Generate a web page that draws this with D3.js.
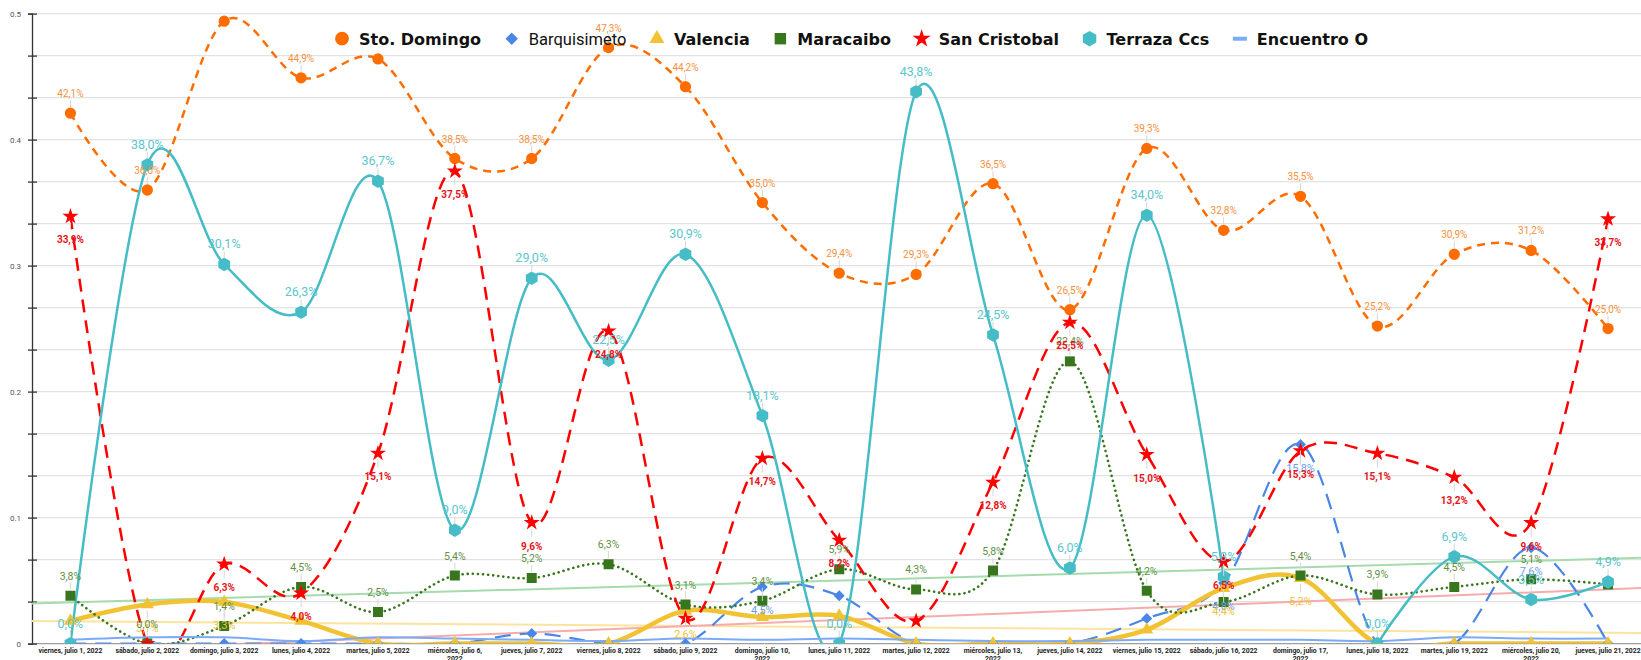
<!DOCTYPE html>
<html>
<head>
<meta charset="utf-8">
<script src="https://cdn.jsdelivr.net/npm/d3@7"></script>
<style>
  body { margin: 0; background: #fff; overflow: hidden; }
  svg { display: block; }
</style>
</head>
<body>
<div id="chart"></div>
<script>
// Categories (days)
var categories = ["viernes, julio 1, 2022", "sábado, julio 2, 2022", "domingo, julio 3, 2022", "lunes, julio 4, 2022",
	"martes, julio 5, 2022", "miércoles, julio 6, 2022", "jueves, julio 7, 2022", "viernes, julio 8, 2022",
	"sábado, julio 9, 2022", "domingo, julio 10, 2022", "lunes, julio 11, 2022", "martes, julio 12, 2022",
	"miércoles, julio 13, 2022", "jueves, julio 14, 2022", "viernes, julio 15, 2022", "sábado, julio 16, 2022",
	"domingo, julio 17, 2022", "lunes, julio 18, 2022", "martes, julio 19, 2022", "miércoles, julio 20, 2022",
	"jueves, julio 21, 2022"];

// Series values
var stoDomingo   = [0.421, 0.360, 0.494, 0.449, 0.464, 0.385, 0.385, 0.473, 0.442, 0.350, 0.294, 0.293, 0.365, 0.265, 0.393, 0.328, 0.355, 0.252, 0.309, 0.312, 0.250];
var barquisimeto = [0, 0, 0, 0, 0, 0, 0.008, 0, 0, 0.045, 0.038, 0, 0, 0, 0.020, 0.048, 0.158, 0, 0, 0.076, 0];
var valencia     = [0.018, 0.031, 0.033, 0.018, 0, 0, 0, 0, 0.026, 0.021, 0.022, 0, 0, 0, 0.011, 0.044, 0.052, 0, 0, 0, 0];
var maracaibo    = [0.038, 0, 0.014, 0.045, 0.025, 0.054, 0.052, 0.063, 0.031, 0.034, 0.059, 0.043, 0.058, 0.224, 0.042, 0.033, 0.054, 0.039, 0.045, 0.051, 0.047];
var sanCristobal = [0.339, 0, 0.063, 0.040, 0.151, 0.375, 0.096, 0.248, 0.020, 0.147, 0.082, 0.018, 0.128, 0.255, 0.150, 0.065, 0.153, 0.151, 0.132, 0.096, 0.337];
var terrazaCcs   = [0, 0.380, 0.301, 0.263, 0.367, 0.090, 0.290, 0.225, 0.309, 0.181, 0, 0.438, 0.245, 0.060, 0.340, 0.053, null, 0, 0.069, 0.035, 0.049];
var encuentroO   = [0.003, 0.005, 0.005, 0.002, 0.005, 0.004, 0.003, 0.002, 0.004, 0.003, 0.004, 0.003, 0.002, 0.002, 0.003, 0.003, 0.003, 0.002, 0.005, 0.004, 0.004];

// Which data labels are visible (indices)
var stoDomingoLabelsHidden   = [2, 4];
var barquisimetoLabelsShown  = [9, 15, 16, 19];
var valenciaLabelsShown      = [1, 2, 8, 15, 16];
var maracaiboLabelsHidden    = [15, 20];
var sanCristobalLabelsHidden = [1, 8, 11];

// Y axis: gridlines every 1/30, labels every 0.1
var gridSteps = d3.range(16).map(function(i) { return i / 30; });

var width = 1641, height = 660;
var axisX = 32;
var step = 76.88;

var x = d3.scaleBand().domain(categories).range([axisX, axisX + categories.length * step]).padding(0);
var y = d3.scaleLinear().domain([0, 0.5]).range([643.6, 13.6]);

function cx(i) { return x(categories[i]) + x.bandwidth() / 2; }

var locale = d3.formatLocale({decimal: ",", thousands: ".", grouping: [3], currency: ["", ""]});
var pct = locale.format(".1%");

// hexagon marker (d3 has none)
var symbolHexagon = {
	draw: function(context, size) {
		var r = Math.sqrt(size / (1.5 * Math.sqrt(3)));
		for (var k = 0; k < 6; k++) {
			var a = Math.PI / 3 * k - Math.PI / 2;
			if (k == 0) context.moveTo(r * Math.cos(a), r * Math.sin(a));
			else context.lineTo(r * Math.cos(a), r * Math.sin(a));
		}
		context.closePath();
	}
};

var series = [
	{name: "Sto. Domingo", values: stoDomingo, color: "#ff6d00", width: 2.5, dash: "8,6", cap: "butt",
		symbol: d3.symbolCircle, size: 100, rotate: 0,
		label: {pos: "above", color: "#f5913e", size: 10, weight: "normal", hidden: stoDomingoLabelsHidden}},
	{name: "Barquisimeto", values: barquisimeto, color: "#4a86e8", width: 2.2, dash: "16,9", cap: "butt",
		symbol: d3.symbolSquare, size: 60, rotate: 45,
		label: {pos: "below", color: "#6d9eeb", size: 11, weight: "normal", shown: barquisimetoLabelsShown}},
	{name: "Valencia", values: valencia, color: "#f1c232", width: 4.5, dash: null, cap: "round",
		symbol: d3.symbolTriangle, size: 75, rotate: 0,
		label: {pos: "below", color: "#f1c232", size: 11, weight: "normal", shown: valenciaLabelsShown}},
	{name: "Maracaibo", values: maracaibo, color: "#38761d", width: 2.6, dash: "0.1,5", cap: "round",
		symbol: d3.symbolSquare, size: 100, rotate: 0,
		label: {pos: "above", color: "#5f8f44", size: 10.5, weight: "normal", hidden: maracaiboLabelsHidden}},
	{name: "San Cristobal", values: sanCristobal, color: "#ff0000", width: 2.5, dash: "13,8", cap: "butt",
		symbol: d3.symbolStar, size: 80, rotate: 0,
		label: {pos: "below", color: "#e8141b", size: 10, weight: "bold", hidden: sanCristobalLabelsHidden}},
	{name: "Terraza Ccs", values: terrazaCcs, color: "#46bdc6", width: 2.5, dash: null, cap: "round",
		symbol: symbolHexagon, size: 120, rotate: 0,
		label: {pos: "above", color: "#5cc6ce", size: 12.5, weight: "normal", hidden: []}},
	{name: "Encuentro O", values: encuentroO, color: "#7baaf7", width: 2, dash: null, cap: "round",
		symbol: null, label: null}
];

// linear trendlines (least squares over the category index)
function trend(values) {
	var n = values.length, mx = (n - 1) / 2, my = d3.mean(values);
	var sxy = 0, sxx = 0;
	values.forEach(function(v, i) { sxy += (i - mx) * (v - my); sxx += (i - mx) * (i - mx); });
	var b = sxy / sxx;
	return function(i) { return my + b * (i - mx); };
}
var trends = [
	{values: maracaibo, color: "#a6dbae"},
	{values: valencia, color: "#fde3a0"},
	{values: barquisimeto, color: "#f6acac"}
];

var svg = d3.select("#chart").append("svg")
	.attr("width", width)
	.attr("height", height);

svg.append("defs").append("clipPath").attr("id", "plotclip")
	.append("rect")
	.attr("x", axisX).attr("y", 0)
	.attr("width", width - axisX).attr("height", y(0));

// gridlines
svg.append("g").selectAll("line").data(gridSteps).enter().append("line")
	.attr("x1", axisX).attr("x2", width)
	.attr("y1", function(d) { return y(d); }).attr("y2", function(d) { return y(d); })
	.attr("stroke", function(d, i) { return i == 0 ? "#9e9e9e" : "#e2e2e2"; })
	.attr("stroke-width", 1.2);

// y axis
var yAxis = d3.axisLeft(y).tickValues(gridSteps).tickSize(4).tickPadding(7)
	.tickFormat(function(d, i) { return i % 3 == 0 ? d3.format(".1~f")(d) : ""; });
var gy = svg.append("g").attr("transform", "translate(" + axisX + ",0)").call(yAxis);
gy.select(".domain").attr("stroke", "#333").attr("stroke-width", 1.3);
gy.selectAll(".tick line").attr("x1", -4).attr("x2", 5).attr("stroke", "#333").attr("stroke-width", 1.3);
gy.selectAll(".tick text").attr("fill", "#555").style("font-family", "Roboto, Arial, sans-serif").style("font-size", "8px");

// x labels: narrow bold text, long ones break before the year
var xLabelScale = 0.86;
var gx = svg.append("g");
function xLabel(i) {
	return gx.append("text")
		.attr("transform", "translate(" + cx(i) + ",653) scale(" + xLabelScale + ",1)")
		.attr("text-anchor", "middle")
		.attr("fill", "#222")
		.style("font-family", "Roboto, Arial, sans-serif")
		.style("font-weight", "bold")
		.style("font-size", "8px");
}
// the break width sits between the widest label kept on one line and the narrowest broken one
var probe = xLabel(0);
var wShort = probe.text("domingo, julio 3, 2022").node().getComputedTextLength();
var wLong = probe.text("domingo, julio 10, 2022").node().getComputedTextLength();
probe.remove();
var wrapWidth = (wShort + wLong) / 2;

categories.forEach(function(c, i) {
	var t = xLabel(i);
	var words = c.split(" "), lineText = [];
	var tspan = t.append("tspan").attr("x", 0).attr("dy", 0);
	words.forEach(function(w) {
		lineText.push(w);
		tspan.text(lineText.join(" "));
		if (tspan.node().getComputedTextLength() > wrapWidth && lineText.length > 1) {
			lineText.pop();
			tspan.text(lineText.join(" "));
			lineText = [w];
			tspan = t.append("tspan").attr("x", 0).attr("dy", "8.5px").text(w);
		}
	});
});

var plot = svg.append("g").attr("clip-path", "url(#plotclip)");

// trendlines
trends.forEach(function(tr) {
	var f = trend(tr.values);
	var i0 = (axisX - cx(0)) / step, i1 = (width - cx(0)) / step;
	plot.append("path")
		.datum([i0, i1])
		.attr("d", d3.line().x(function(i) { return cx(0) + i * step; }).y(function(i) { return y(f(i)); }))
		.attr("fill", "none")
		.attr("stroke", tr.color)
		.attr("stroke-width", 2);
});

var line = d3.line()
	.defined(function(d) { return d.v != null; })
	.x(function(d) { return cx(d.i); })
	.y(function(d) { return y(d.v); })
	.curve(d3.curveCardinal.tension(0));

series.forEach(function(s) {
	var pts = s.values.map(function(v, i) { return {i: i, v: v}; });
	plot.append("path")
		.datum(pts)
		.attr("d", line)
		.attr("fill", "none")
		.attr("stroke", s.color)
		.attr("stroke-width", s.width)
		.attr("stroke-linecap", s.cap)
		.attr("stroke-dasharray", s.dash);
});

series.forEach(function(s) {
	if (!s.symbol) return;
	var pts = s.values.map(function(v, i) { return {i: i, v: v}; }).filter(function(d) { return d.v != null; });
	plot.append("g").selectAll("path").data(pts).enter().append("path")
		.attr("d", d3.symbol().type(s.symbol).size(s.size))
		.attr("transform", function(d) { return "translate(" + cx(d.i) + "," + y(d.v) + ") rotate(" + s.rotate + ")"; })
		.attr("fill", s.color);
});

// data labels
var labels = svg.append("g");
series.forEach(function(s) {
	if (!s.label) return;
	var L = s.label;
	var pts = s.values.map(function(v, i) { return {i: i, v: v}; }).filter(function(d) {
		if (d.v == null) return false;
		if (L.shown) return L.shown.indexOf(d.i) >= 0;
		return L.hidden.indexOf(d.i) < 0;
	});
	var g = labels.append("g");
	g.selectAll("line").data(pts).enter().append("line")
		.attr("x1", function(d) { return cx(d.i); }).attr("x2", function(d) { return cx(d.i); })
		.attr("y1", function(d) { return L.pos == "above" ? y(d.v) - 6 : y(d.v) + 6; })
		.attr("y2", function(d) { return L.pos == "above" ? y(d.v) - 13 : y(d.v) + 14; })
		.attr("stroke", "#d6d6d6").attr("stroke-width", 1);
	g.selectAll("text").data(pts).enter().append("text")
		.attr("x", function(d) { return cx(d.i); })
		.attr("y", function(d) { return L.pos == "above" ? y(d.v) - 16 : y(d.v) + 27; })
		.attr("text-anchor", "middle")
		.attr("fill", L.color)
		.style("font-family", "Roboto, Arial, sans-serif")
		.style("font-size", L.size + "px")
		.style("font-weight", L.weight)
		.text(function(d) { return pct(d.v); });
});

// legend
var legend = svg.append("g");
var legendStart = 342, legendEnd = 1368, symToText = 17;
var items = series.map(function(s) {
	var g = legend.append("g");
	if (s.symbol) {
		g.append("path")
			.attr("d", d3.symbol().type(s.symbol).size(s.symbol == d3.symbolCircle ? 150 : s.size * 1.3))
			.attr("transform", "rotate(" + s.rotate + ")")
			.attr("fill", s.color);
	} else {
		g.append("rect").attr("x", -7).attr("y", -2).attr("width", 14).attr("height", 4).attr("fill", s.color);
	}
	var t = g.append("text")
		.attr("x", symToText).attr("y", 5.8)
		.attr("fill", "#111")
		.style("font-family", s.name == "Barquisimeto" ? "Roboto, Arial, sans-serif" : "'DejaVu Sans', Arial, sans-serif")
		.style("font-weight", s.name == "Barquisimeto" ? "normal" : "bold")
		.style("font-size", s.name == "Barquisimeto" ? "16.5px" : "16px")
		.text(s.name);
	return {g: g, w: t.node().getComputedTextLength()};
});
var textTotal = d3.sum(items, function(it) { return it.w; });
var gap = (legendEnd - legendStart - textTotal - items.length * symToText) / (items.length - 1);
var lx = legendStart;
items.forEach(function(it) {
	it.g.attr("transform", "translate(" + lx + ",38.7)");
	lx += symToText + it.w + gap;
});
</script>
</body>
</html>
